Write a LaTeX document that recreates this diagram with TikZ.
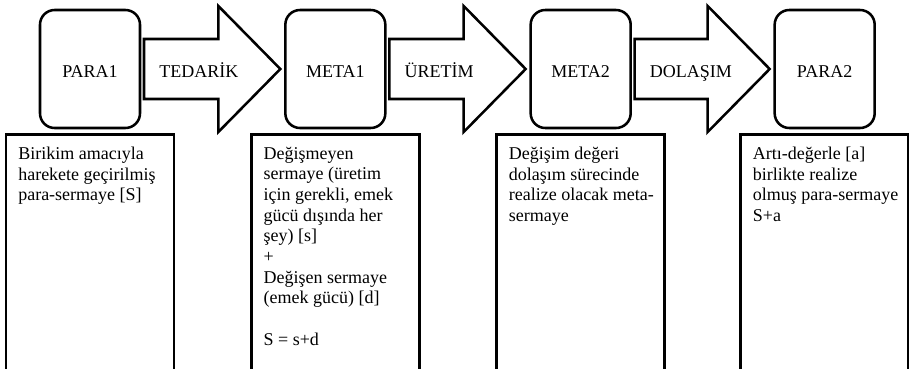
\documentclass[tikz,border=0pt]{standalone}
\usepackage{fontspec}
\setmainfont{Liberation Serif}
\usepackage{tikz}
\usetikzlibrary{calc,positioning}
\tikzstyle{round node}=[draw,line width=1.9pt,rounded corners=11pt,minimum width=75pt,minimum height=88.5pt,outer sep=0,font=\fontsize{13.5}{15.5}\selectfont,text height=13pt,text depth=0pt]
\tikzstyle{block arrow}=[draw,line width=1.9pt,line join=miter]
\tikzstyle{arrow text}=[inner sep=0,anchor=west,font=\fontsize{13.5}{15.5}\selectfont,text height=13pt,text depth=0pt]
\tikzstyle{note box}=[draw,line width=1.9pt,minimum width=126pt,minimum height=180pt,outer sep=0]
\tikzstyle{note text}=[anchor=north west,inner sep=9pt,align=left,font=\fontsize{13.5}{15.5}\selectfont]

\begin{document}
\begin{tikzpicture}[x=0.75pt,y=-0.75pt]
\useasboundingbox (0,0) rectangle (909,368);
\clip (0,0) rectangle (909,368);

\node(para1)[round node] at (90,69) {PARA1};
\node(meta1)[round node,right=109pt of para1] {META1};
\node(meta2)[round node,right=109pt of meta1] {META2};
\node(para2)[round node,right=108pt of meta2] {PARA2};

\foreach \a/\b/\t in {para1/meta1/TEDARİK,meta1/meta2/ÜRETİM,meta2/para2/DOLAŞIM}{
	\draw[block arrow] ($(\a.east)+(4,-30)$) -- ($(\b.west)+(-67,-30)$) -- ($(\b.west)+(-67,-63)$)
		-- ($(\b.west)+(-5,0)$) -- ($(\b.west)+(-67,63)$) -- ($(\b.west)+(-67,30)$)
		-- ($(\a.east)+(4,30)$) -- cycle;
	\node(\a-\b)[arrow text] at ($(\a.east)+(19,0)$) {\t};
}

\node(note1)[note box,below=5pt of para1] {};
\node(note2)[note box,below=5pt of meta1] {};
\node(note3)[note box,below=5pt of meta2] {};
\node(note4)[note box,below=5pt of para2] {};

\node(text1)[note text] at (note1.north west) {Birikim amacıyla\\harekete geçirilmiş\\para-sermaye [S]};
\node(text2)[note text] at (note2.north west) {Değişmeyen\\sermaye (üretim\\için gerekli, emek\\gücü dışında her\\şey) [s]\\+\\Değişen sermaye\\(emek gücü) [d]\\[15.5pt]S = s+d};
\node(text3)[note text] at (note3.north west) {Değişim değeri\\dolaşım sürecinde\\realize olacak meta-\\sermaye};
\node(text4)[note text] at (note4.north west) {Artı-değerle [a]\\birlikte realize\\olmuş para-sermaye\\S+a};

\end{tikzpicture}
\end{document}
